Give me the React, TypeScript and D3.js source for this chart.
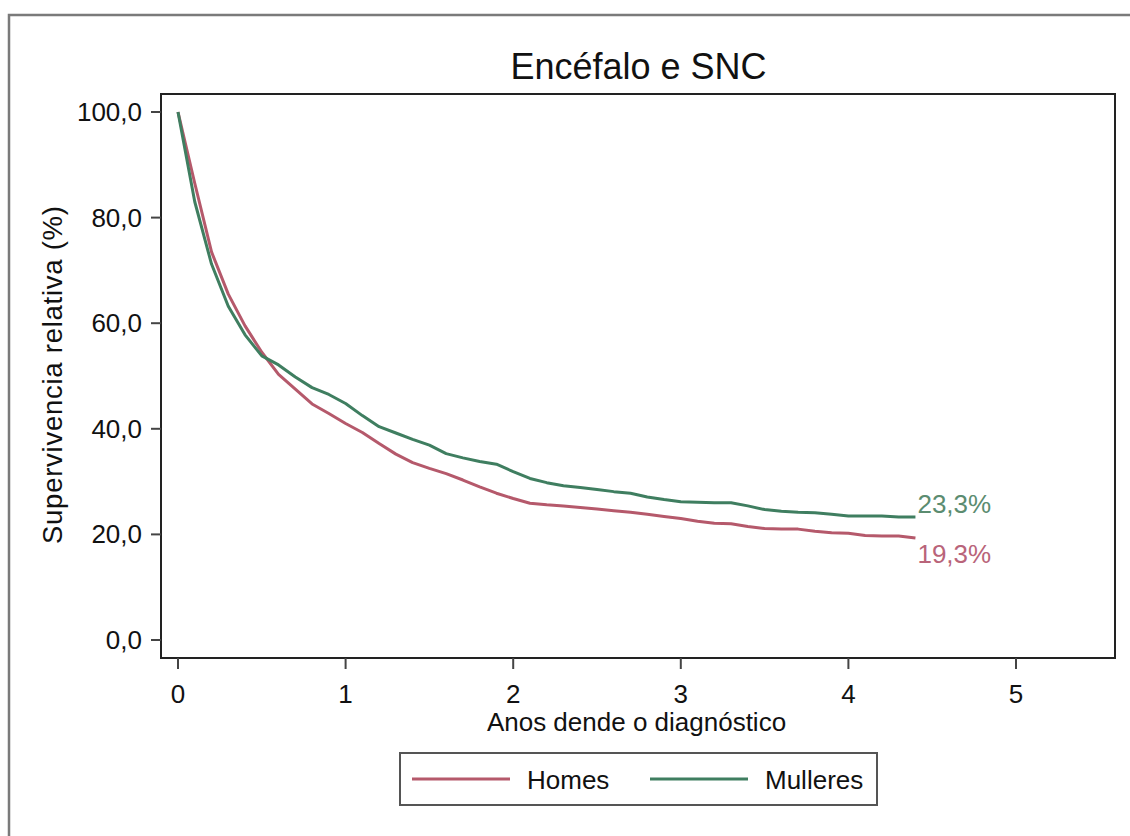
import React from "react";
import * as d3 from "d3";

const years = [
  0.0, 0.1, 0.2, 0.3, 0.4, 0.5, 0.6, 0.7, 0.8, 0.9, 1.0, 1.1, 1.2, 1.3, 1.4, 1.5,
  1.6, 1.7, 1.8, 1.9, 2.0, 2.1, 2.2, 2.3, 2.4, 2.5, 2.6, 2.7, 2.8, 2.9, 3.0, 3.1,
  3.2, 3.3, 3.4, 3.5, 3.6, 3.7, 3.8, 3.9, 4.0, 4.1, 4.2, 4.3, 4.4,
];
const homes = [
  100, 86.5, 73.5, 65.5, 59.5, 54.5, 50.3, 47.5, 44.7, 42.9, 41.0, 39.3, 37.2, 35.2,
  33.6, 32.5, 31.5, 30.3, 29.0, 27.8, 26.8, 25.9, 25.6, 25.4, 25.1, 24.8, 24.5, 24.2,
  23.8, 23.4, 23.0, 22.5, 22.1, 22.0, 21.5, 21.1, 21.0, 21.0, 20.6, 20.3, 20.2, 19.8,
  19.7, 19.7, 19.3,
];
const mulleres = [
  100, 83.0, 71.2, 63.2, 57.8, 53.8, 52.1, 49.8, 47.8, 46.5, 44.8, 42.5, 40.4, 39.2,
  38.0, 36.9, 35.3, 34.5, 33.8, 33.3, 31.9, 30.6, 29.8, 29.2, 28.9, 28.5, 28.1, 27.8,
  27.1, 26.6, 26.2, 26.1, 26.0, 26.0, 25.4, 24.7, 24.4, 24.2, 24.1, 23.8, 23.5, 23.5,
  23.5, 23.3, 23.3,
];
const xTicks = [0, 1, 2, 3, 4, 5];
const yTicks = [0, 20, 40, 60, 80, 100];
const seriesNames = ["Homes", "Mulleres"];
const endLabels = ["19,3%", "23,3%"];
const title = "Encéfalo e SNC";
const xTitle = "Anos dende o diagnóstico";
const yTitle = "Supervivencia relativa (%)";

const RED = "#b5596b";
const GREEN = "#3f7e60";
const FONT = "'Liberation Sans', Arial, sans-serif";

export default function App() {
  const x = d3.scaleLinear().domain([0, 5]).range([178, 1016]);
  const y = d3.scaleLinear().domain([0, 100]).range([640, 112]);
  const plot = { x0: 161, x1: 1115, y0: 94, y1: 658 };

  const line = d3
    .line<number>()
    .x((_, i) => x(years[i]))
    .y((d) => y(d));

  const fmt = (v: number) => v.toFixed(1).replace(".", ",");
  const last = years.length - 1;

  return (
    <svg
      width={1130}
      height={836}
      style={{ position: "absolute", left: 0, top: 0, background: "#fff" }}
      fontFamily={FONT}
    >
      <rect x={0} y={0} width={1130} height={836} fill="#fff" />
      {/* outer frame */}
      <path d="M9,840 L9,15 L1135,15" fill="none" stroke="#7a7a7a" strokeWidth={2.5} />

      {/* title */}
      <text x={638.5} y={79} textAnchor="middle" fontSize={36} fill="#111">
        {title}
      </text>

      {/* plot frame */}
      <rect
        x={plot.x0}
        y={plot.y0}
        width={plot.x1 - plot.x0}
        height={plot.y1 - plot.y0}
        fill="none"
        stroke="#222"
        strokeWidth={2}
      />

      {/* y ticks */}
      {yTicks.map((t) => (
        <g key={"y" + t}>
          <line x1={151} x2={plot.x0} y1={y(t)} y2={y(t)} stroke="#444" strokeWidth={2} />
          <text
            x={142}
            y={y(t)}
            textAnchor="end"
            dominantBaseline="central"
            fontSize={26}
            fill="#111"
          >
            {fmt(t)}
          </text>
        </g>
      ))}

      {/* x ticks */}
      {xTicks.map((t) => (
        <g key={"x" + t}>
          <line x1={x(t)} x2={x(t)} y1={plot.y1} y2={669} stroke="#444" strokeWidth={2} />
          <text x={x(t)} y={703} textAnchor="middle" fontSize={26} fill="#111">
            {t}
          </text>
        </g>
      ))}

      {/* axis titles */}
      <text x={636.5} y={731} textAnchor="middle" fontSize={26} fill="#111">
        {xTitle}
      </text>
      <text
        transform={`translate(62,375) rotate(-90)`}
        textAnchor="middle"
        fontSize={27.5}
        textLength={338}
        lengthAdjust="spacing"
        fill="#111"
      >
        {yTitle}
      </text>

      {/* lines */}
      <path d={line(homes) || ""} fill="none" stroke={RED} strokeWidth={3} strokeLinejoin="round" />
      <path d={line(mulleres) || ""} fill="none" stroke={GREEN} strokeWidth={3} strokeLinejoin="round" />

      {/* end labels */}
      <text x={x(years[last]) + 2} y={y(mulleres[last]) - 4} fontSize={26} fill="#5b8c70">
        {endLabels[1]}
      </text>
      <text x={x(years[last]) + 2} y={y(homes[last]) + 25} fontSize={26} fill="#b9647a">
        {endLabels[0]}
      </text>

      {/* legend */}
      <rect x={400} y={753} width={477} height={52} fill="#fff" stroke="#555" strokeWidth={2} />
      <line x1={412} x2={510} y1={779} y2={779} stroke={RED} strokeWidth={3} />
      <text x={527} y={789} fontSize={26} fill="#111">
        {seriesNames[0]}
      </text>
      <line x1={650} x2={748} y1={779} y2={779} stroke={GREEN} strokeWidth={3} />
      <text x={765} y={789} fontSize={26} fill="#111">
        {seriesNames[1]}
      </text>
    </svg>
  );
}
